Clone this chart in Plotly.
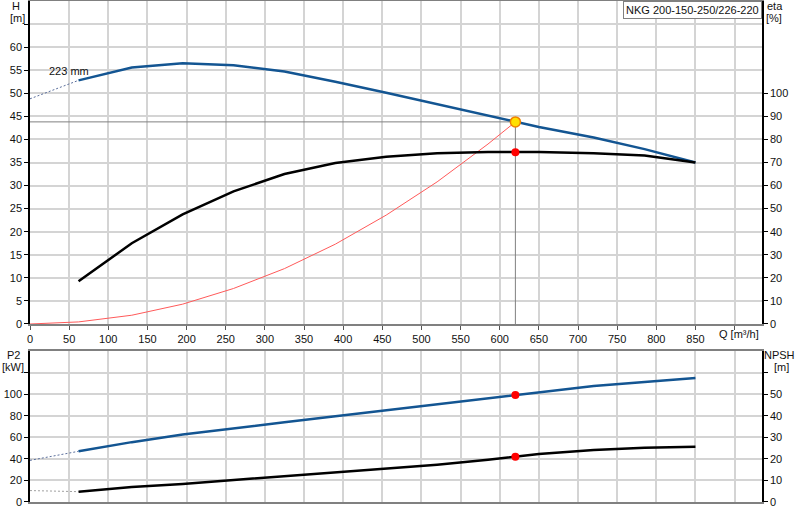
import plotly.graph_objects as go

# pump curve NKG 200-150-250/226-220
q = [62, 130, 195, 260, 325, 390, 455, 520, 585, 650, 720, 785, 850]
head = [52.8, 55.6, 56.5, 56.1, 54.7, 52.5, 50.1, 47.6, 45.2, 42.7, 40.4, 37.9, 35.0]
eta = [18.5, 35.0, 47.5, 57.5, 65.0, 69.8, 72.5, 74.0, 74.5, 74.5, 74.0, 73.0, 70.0]
p2 = [47.0, 55.5, 62.5, 68.5, 74.0, 79.5, 85.0, 90.5, 96.0, 102.0, 107.5, 111.2, 115.0]
npsh = [4.8, 6.9, 8.4, 10.2, 12.0, 13.5, 15.3, 17.3, 19.6, 22.2, 24.1, 25.2, 25.6]

# dashed extensions down to Q=0
q_ext = [0, 62]
head_ext = [48.8, 52.8]
p2_ext = [38.6, 47.0]
npsh_ext = [5.3, 4.8]

# system curve
q_sys = [0, 62, 130, 195, 260, 325, 390, 455, 520, 585, 620]
h_sys = [0, 0.45, 1.9, 4.3, 7.7, 12.0, 17.3, 23.6, 30.8, 39.0, 43.8]

# duty point
q_duty = 620
h_duty = 43.8
eta_duty = 74.4
p2_duty = 99.2
npsh_duty = 21.0

BLUE = "#135592"
FONT = "Liberation Sans, Arial, sans-serif"

fig = go.Figure()

# --- top: H / eta ---
fig.add_trace(go.Scatter(x=[0, q_duty, q_duty], y=[h_duty, h_duty, 0], mode="lines",
                         line=dict(color="#808080", width=1), xaxis="x", yaxis="y"))
fig.add_trace(go.Scatter(x=q_sys, y=h_sys, mode="lines",
                         line=dict(color="#ff5a5a", width=1), xaxis="x", yaxis="y"))
fig.add_trace(go.Scatter(x=q_ext, y=head_ext, mode="lines",
                         line=dict(color="#5b6f9c", width=1, dash="2px,2px"), xaxis="x", yaxis="y"))
fig.add_trace(go.Scatter(x=q, y=head, mode="lines",
                         line=dict(color=BLUE, width=2.5), xaxis="x", yaxis="y"))
fig.add_trace(go.Scatter(x=q, y=eta, mode="lines",
                         line=dict(color="black", width=2.5), xaxis="x", yaxis="y2"))
fig.add_trace(go.Scatter(x=[q_duty], y=[eta_duty], mode="markers",
                         marker=dict(color="#ff0000", size=8), xaxis="x", yaxis="y2"))
fig.add_trace(go.Scatter(x=[q_duty], y=[h_duty], mode="markers",
                         marker=dict(color="#ffe000", size=10, line=dict(color="#f08000", width=1.5)),
                         xaxis="x", yaxis="y"))

# --- bottom: P2 / NPSH ---
fig.add_trace(go.Scatter(x=q_ext, y=p2_ext, mode="lines",
                         line=dict(color="#5b6f9c", width=1, dash="2px,2px"), xaxis="x2", yaxis="y3"))
fig.add_trace(go.Scatter(x=q, y=p2, mode="lines",
                         line=dict(color=BLUE, width=2.5), xaxis="x2", yaxis="y3"))
fig.add_trace(go.Scatter(x=[q_duty], y=[p2_duty], mode="markers",
                         marker=dict(color="#ff0000", size=8), xaxis="x2", yaxis="y3"))
fig.add_trace(go.Scatter(x=q_ext, y=npsh_ext, mode="lines",
                         line=dict(color="#a0a0a0", width=1, dash="2px,2px"), xaxis="x2", yaxis="y4"))
fig.add_trace(go.Scatter(x=q, y=npsh, mode="lines",
                         line=dict(color="black", width=2.5), xaxis="x2", yaxis="y4"))
fig.add_trace(go.Scatter(x=[q_duty], y=[npsh_duty], mode="markers",
                         marker=dict(color="#ff0000", size=8), xaxis="x2", yaxis="y4"))

xticks = list(range(0, 901, 50))
xlabels = [str(v) if v <= 850 else "" for v in xticks]
grid = dict(showgrid=True, gridcolor="#d4d4d4", gridwidth=1.5, zeroline=False, automargin=False)

xcommon = dict(range=[0, 935], tickvals=xticks, ticklen=4, tickcolor="#555",
               showline=True, linecolor="#808080", linewidth=2, mirror=True, **grid)

fig.update_layout(
    width=800, height=520,
    margin=dict(l=30, r=38, t=1, b=18),
    paper_bgcolor="white", plot_bgcolor="white",
    showlegend=False,
    font=dict(family=FONT, size=11, color="#111"),
    xaxis=dict(anchor="y", domain=[0, 1], ticktext=xlabels, ticks="outside", **xcommon),
    yaxis=dict(domain=[0.3553, 1], range=[0, 70], tickvals=list(range(0, 70, 5)),
               ticktext=[str(v) if v <= 60 else "" for v in range(0, 70, 5)],
               ticks="outside", ticklen=4, tickcolor="black",
               showline=True, linecolor="black", linewidth=1.5, **grid),
    yaxis2=dict(overlaying="y", side="right", anchor="x", range=[0, 140],
                tickvals=list(range(0, 101, 10)), ticks="outside", ticklen=4, tickcolor="black",
                showline=True, linecolor="black", linewidth=1.5, showgrid=False, zeroline=False,
                automargin=False),
    xaxis2=dict(anchor="y3", domain=[0, 1], showticklabels=False, ticks="", **xcommon),
    yaxis3=dict(domain=[0, 0.3014], range=[0, 140], tickvals=list(range(0, 140, 20)),
                ticktext=[str(v) if v <= 100 else "" for v in range(0, 140, 20)],
                ticks="outside", ticklen=4, tickcolor="black",
                showline=True, linecolor="black", linewidth=1.5, **grid),
    yaxis4=dict(overlaying="y3", side="right", anchor="x2", range=[0, 70],
                tickvals=list(range(0, 70, 10)),
                ticktext=[str(v) if v <= 50 else "" for v in range(0, 70, 10)],
                ticks="outside", ticklen=4, tickcolor="black",
                showline=True, linecolor="black", linewidth=1.5, showgrid=False, zeroline=False,
                automargin=False),
)


def px_x(px):
    return (px - 30) / 732


def px_y(py):
    return (502 - py) / 501


labels = [
    ("H", 16, 6), ("[m]", 17, 18),
    ("eta", 775, 6), ("[%]", 774, 18),
    ("P2", 13, 355), ("[kW]", 13, 367),
    ("NPSH", 780, 355), ("[m]", 781, 367),
    ("Q [m³/h]", 739, 334),
]
for text, x, y in labels:
    fig.add_annotation(text=text, xref="paper", yref="paper", x=px_x(x), y=px_y(y),
                       xanchor="center", yanchor="middle", showarrow=False,
                       font=dict(size=11, color="#111"))

fig.add_annotation(text="223 mm", xref="x", yref="y", x=22, y=54.8, xanchor="left",
                   yanchor="middle", showarrow=False, font=dict(size=11, color="#111"))

fig.add_annotation(text="NKG 200-150-250/226-220", xref="paper", yref="paper", x=1, y=1,
                   xanchor="right", yanchor="top", showarrow=False, bgcolor="white",
                   bordercolor="#808080", borderwidth=1, borderpad=2,
                   font=dict(size=11, color="#111"))

# the page body has a default 8px margin; drop it so the figure sits at the corner
fig.write_html("out.html", config={"displayModeBar": False},
               post_script="document.body.style.margin='0';")
